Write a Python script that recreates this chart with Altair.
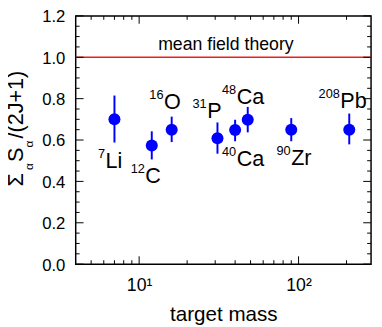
import math
import altair as alt
import pandas as pd

F = "Liberation Sans"

# data
mass = [7, 12, 16, 31, 40, 48, 90, 208]
sf = [0.70, 0.574, 0.65, 0.609, 0.648, 0.698, 0.65, 0.65]
sf_lo = [0.588, 0.506, 0.59, 0.534, 0.594, 0.637, 0.594, 0.579]
sf_hi = [0.815, 0.642, 0.713, 0.685, 0.698, 0.76, 0.706, 0.728]

lab_num = ["7", "12", "16", "31", "48", "40", "90", "208"]
lab_elem = ["Li", "C", "O", "P", "Ca", "Ca", "Zr", "Pb"]
lab_x = [6.15, 10.94, 14.32, 26.7, 40.9, 40.9, 89.9, 182.8]
lab_y = [0.466, 0.391, 0.749, 0.706, 0.775, 0.474, 0.479, 0.756]

mf_text = ["mean field theory"]
mf_x = [35]
mf_y = [1.037]
mf_level = [1.0]

x_major = [10, 100]
x_minor = [5, 6, 7, 8, 9, 20, 30, 40, 50, 60, 70, 80, 90, 200]
y_major = [0.0, 0.2, 0.4, 0.6, 0.8, 1.0, 1.2]
y_minor = [round(0.05 * i, 2) for i in range(25) if i % 4 != 0]

title_parts = ["Σ", "α", "S", "α", "/(2J+1)"]

XDOM = [4, 285]
YDOM = [0, 1.2]
W, H = 301, 253

df = pd.DataFrame({"mass": mass, "sf": sf, "lo": sf_lo, "hi": sf_hi})
lab = pd.DataFrame({"x": lab_x, "y": lab_y, "num": lab_num, "elem": lab_elem})
mf = pd.DataFrame({"x": mf_x, "y": mf_y, "t": mf_text})
lvl = pd.DataFrame({"y": mf_level})

xs = alt.Scale(type="log", domain=XDOM, nice=False)
ys = alt.Scale(domain=YDOM, nice=False, zero=False)

AX = alt.Axis(values=x_major, labelExpr="datum.value == 10 ? '10¹' : '10²'",
              ticks=False, domain=False, grid=False, labelFontSize=18,
              labelFont=F, labelColor="black", labelPadding=13,
              title="target mass", titleFont=F, titleFontSize=21,
              titleFontWeight="normal", titleColor="black", titlePadding=9)
AY = alt.Axis(values=y_major, format=".1f", ticks=False, domain=False,
              grid=False, labelFontSize=17, labelFont=F, labelColor="black",
              labelPadding=11, labelOffset=1, title="")


def X(field):
    return alt.X(field, type="quantitative", scale=xs, axis=AX)


def Y(field):
    return alt.Y(field, type="quantitative", scale=ys, axis=AY)


# tick lengths (px) expressed in each scale's data units, so the inward
# ticks are drawn through the same scales as the data
def y_len(px):
    return px * (YDOM[1] - YDOM[0]) / H


def x_mul(px):
    return 10 ** (px * math.log10(XDOM[1] / XDOM[0]) / W)


def xticks(vals, px, top):
    if top:
        a, b = YDOM[1], YDOM[1] - y_len(px)
    else:
        a, b = YDOM[0], YDOM[0] + y_len(px)
    d = pd.DataFrame({"v": vals, "a": [a] * len(vals), "b": [b] * len(vals)})
    return alt.Chart(d).mark_rule(color="black", strokeWidth=1).encode(
        x=X("v"), y=Y("a"), y2="b:Q")


def yticks(vals, px, right):
    if right:
        a, b = XDOM[1], XDOM[1] / x_mul(px)
    else:
        a, b = XDOM[0], XDOM[0] * x_mul(px)
    d = pd.DataFrame({"v": vals, "a": [a] * len(vals), "b": [b] * len(vals)})
    return alt.Chart(d).mark_rule(color="black", strokeWidth=1).encode(
        y=Y("v"), x=X("a"), x2="b:Q")


err = alt.Chart(df).mark_rule(color="#0000ff", strokeWidth=2).encode(
    x=X("mass"), y=Y("lo"), y2="hi:Q",
)

rule = alt.Chart(lvl).mark_rule(color="#ee1c1c", strokeWidth=1.5).encode(y=Y("y"))

ticks = [
    xticks(x_major, 8, False), xticks(x_minor, 4, False),
    xticks(x_major, 8, True), xticks(x_minor, 4, True),
    yticks(y_major, 8, False), yticks(y_minor, 4, False),
    yticks(y_major, 8, True), yticks(y_minor, 4, True),
]

pts = alt.Chart(df).mark_circle(size=150, color="#0000ff", opacity=1).encode(
    x=X("mass"), y=Y("sf"),
)

elem = alt.Chart(lab).mark_text(align="left", baseline="alphabetic", fontSize=22,
                                font=F, color="black").encode(
    x=X("x"), y=Y("y"), text="elem:N",
)

sup = alt.Chart(lab).mark_text(align="right", baseline="alphabetic", fontSize=13,
                               font=F, color="black", dy=-10, dx=-0.5).encode(
    x=X("x"), y=Y("y"), text="num:N",
)

mft = alt.Chart(mf).mark_text(align="center", baseline="alphabetic", fontSize=18,
                              font=F, color="black").encode(
    x=X("x"), y=Y("y"), text="t:N",
)


def title_piece(i, px, py, size):
    return alt.Chart(pd.DataFrame({"t": [title_parts[i]]})).mark_text(
        angle=270, align="left", baseline="alphabetic", fontSize=size,
        font=F, color="black").encode(x=alt.value(px), y=alt.value(py), text="t:N")


tparts = [
    title_piece(0, -54, 174, 22),
    title_piece(1, -44, 157, 12),
    title_piece(2, -54, 149, 22),
    title_piece(3, -44, 134, 12),
    title_piece(4, -54, 125, 22),
]

chart = alt.layer(err, rule, *ticks, pts, elem, sup, mft, *tparts).properties(
    width=W, height=H,
    autosize=alt.AutoSizeParams(type="none"),
    padding={"left": 69, "top": 5, "right": 3, "bottom": 60},
).configure_view(stroke="black", strokeWidth=1.5)

chart.save("out.html", embed_options={"renderer": "svg", "actions": False})
